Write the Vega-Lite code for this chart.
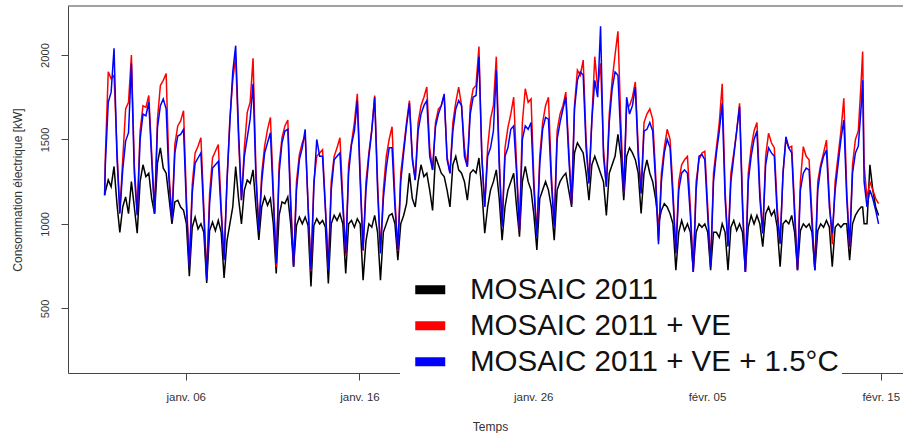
{
"$schema": "https://vega.github.io/schema/vega-lite/v6.json",
"autosize": {"type": "none"},
"padding": {"left": 68, "top": 6, "right": 0, "bottom": 60},
"width": 835,
"height": 367,
"background": "white",
"config": {"view": {"stroke": null}, "font": "Liberation Sans"},
"data": {"values": [
{"t":"2011-01-01T08:00","k":1170,"r":1170,"b":1170},
{"t":"2011-01-01T09:00","k":1190,"r":1400,"b":1350},
{"t":"2011-01-01T13:00","k":1260,"r":1900,"b":1720},
{"t":"2011-01-01T17:00","k":1220,"r":1860,"b":1780},
{"t":"2011-01-01T21:00","k":1340,"r":1880,"b":2040},
{"t":"2011-01-02T01:00","k":1120,"r":1450,"b":1400},
{"t":"2011-01-02T05:00","k":950,"r":1070,"b":1060},
{"t":"2011-01-02T09:00","k":1100,"r":1380,"b":1320},
{"t":"2011-01-02T13:00","k":1160,"r":1680,"b":1490},
{"t":"2011-01-02T17:00","k":1060,"r":1720,"b":1540},
{"t":"2011-01-02T21:00","k":1250,"r":2000,"b":1950},
{"t":"2011-01-03T01:00","k":1100,"r":1350,"b":1300},
{"t":"2011-01-03T05:00","k":945,"r":1060,"b":1050},
{"t":"2011-01-03T09:00","k":1250,"r":1550,"b":1500},
{"t":"2011-01-03T13:00","k":1350,"r":1700,"b":1650},
{"t":"2011-01-03T17:00","k":1280,"r":1690,"b":1640},
{"t":"2011-01-03T21:00","k":1300,"r":1760,"b":1720},
{"t":"2011-01-04T01:00","k":1150,"r":1420,"b":1380},
{"t":"2011-01-04T05:00","k":1060,"r":1070,"b":1060},
{"t":"2011-01-04T09:00","k":1360,"r":1620,"b":1570},
{"t":"2011-01-04T13:00","k":1450,"r":1820,"b":1700},
{"t":"2011-01-04T17:00","k":1330,"r":1850,"b":1740},
{"t":"2011-01-04T21:00","k":1300,"r":1890,"b":1680},
{"t":"2011-01-05T01:00","k":1150,"r":1300,"b":1250},
{"t":"2011-01-05T05:00","k":1000,"r":1030,"b":1020},
{"t":"2011-01-05T09:00","k":1130,"r":1470,"b":1420},
{"t":"2011-01-05T13:00","k":1140,"r":1580,"b":1520},
{"t":"2011-01-05T17:00","k":1100,"r":1610,"b":1530},
{"t":"2011-01-05T21:00","k":1080,"r":1670,"b":1560},
{"t":"2011-01-06T01:00","k":1000,"r":1150,"b":1100},
{"t":"2011-01-06T05:00","k":690,"r":760,"b":740},
{"t":"2011-01-06T09:00","k":980,"r":1230,"b":1180},
{"t":"2011-01-06T13:00","k":1040,"r":1420,"b":1360},
{"t":"2011-01-06T17:00","k":970,"r":1460,"b":1390},
{"t":"2011-01-06T21:00","k":1000,"r":1510,"b":1420},
{"t":"2011-01-07T01:00","k":950,"r":1100,"b":1050},
{"t":"2011-01-07T05:00","k":650,"r":690,"b":670},
{"t":"2011-01-07T09:00","k":960,"r":1180,"b":1120},
{"t":"2011-01-07T13:00","k":1010,"r":1390,"b":1330},
{"t":"2011-01-07T17:00","k":960,"r":1430,"b":1350},
{"t":"2011-01-07T21:00","k":1020,"r":1470,"b":1370},
{"t":"2011-01-08T01:00","k":950,"r":1100,"b":1060},
{"t":"2011-01-08T05:00","k":680,"r":790,"b":785},
{"t":"2011-01-08T09:00","k":900,"r":1250,"b":1250},
{"t":"2011-01-08T13:00","k":1000,"r":1620,"b":1600},
{"t":"2011-01-08T17:00","k":1100,"r":1850,"b":1900},
{"t":"2011-01-08T21:00","k":1340,"r":1990,"b":2055},
{"t":"2011-01-09T01:00","k":1150,"r":1500,"b":1550},
{"t":"2011-01-09T05:00","k":1000,"r":1140,"b":1140},
{"t":"2011-01-09T09:00","k":1200,"r":1450,"b":1400},
{"t":"2011-01-09T13:00","k":1260,"r":1660,"b":1510},
{"t":"2011-01-09T17:00","k":1240,"r":1720,"b":1620},
{"t":"2011-01-09T21:00","k":1320,"r":1980,"b":1830},
{"t":"2011-01-10T01:00","k":1100,"r":1320,"b":1270},
{"t":"2011-01-10T05:00","k":905,"r":965,"b":960},
{"t":"2011-01-10T09:00","k":1100,"r":1300,"b":1250},
{"t":"2011-01-10T13:00","k":1160,"r":1460,"b":1420},
{"t":"2011-01-10T17:00","k":1110,"r":1560,"b":1480},
{"t":"2011-01-10T21:00","k":1150,"r":1630,"b":1540},
{"t":"2011-01-11T01:00","k":1000,"r":1200,"b":1150},
{"t":"2011-01-11T05:00","k":706,"r":745,"b":766},
{"t":"2011-01-11T09:00","k":1050,"r":1350,"b":1300},
{"t":"2011-01-11T13:00","k":1130,"r":1510,"b":1480},
{"t":"2011-01-11T17:00","k":1120,"r":1580,"b":1550},
{"t":"2011-01-11T21:00","k":1160,"r":1615,"b":1560},
{"t":"2011-01-12T01:00","k":1000,"r":1150,"b":1100},
{"t":"2011-01-12T05:00","k":746,"r":750,"b":746},
{"t":"2011-01-12T09:00","k":990,"r":1250,"b":1200},
{"t":"2011-01-12T13:00","k":1040,"r":1410,"b":1380},
{"t":"2011-01-12T17:00","k":1000,"r":1480,"b":1450},
{"t":"2011-01-12T21:00","k":1040,"r":1520,"b":1560},
{"t":"2011-01-13T01:00","k":990,"r":1120,"b":1100},
{"t":"2011-01-13T05:00","k":630,"r":720,"b":726},
{"t":"2011-01-13T09:00","k":990,"r":1250,"b":1220},
{"t":"2011-01-13T13:00","k":1030,"r":1400,"b":1500},
{"t":"2011-01-13T17:00","k":1000,"r":1420,"b":1400},
{"t":"2011-01-13T21:00","k":1020,"r":1440,"b":1400},
{"t":"2011-01-14T01:00","k":980,"r":1100,"b":1080},
{"t":"2011-01-14T05:00","k":647,"r":730,"b":726},
{"t":"2011-01-14T09:00","k":1000,"r":1250,"b":1200},
{"t":"2011-01-14T13:00","k":1050,"r":1400,"b":1380},
{"t":"2011-01-14T17:00","k":1020,"r":1450,"b":1400},
{"t":"2011-01-14T21:00","k":1060,"r":1510,"b":1420},
{"t":"2011-01-15T01:00","k":1000,"r":1150,"b":1100},
{"t":"2011-01-15T05:00","k":706,"r":810,"b":825},
{"t":"2011-01-15T09:00","k":1000,"r":1350,"b":1300},
{"t":"2011-01-15T13:00","k":1020,"r":1480,"b":1470},
{"t":"2011-01-15T17:00","k":980,"r":1600,"b":1550},
{"t":"2011-01-15T21:00","k":1030,"r":1770,"b":1730},
{"t":"2011-01-16T01:00","k":1000,"r":1300,"b":1250},
{"t":"2011-01-16T05:00","k":667,"r":840,"b":845},
{"t":"2011-01-16T09:00","k":900,"r":1250,"b":1200},
{"t":"2011-01-16T13:00","k":1000,"r":1420,"b":1400},
{"t":"2011-01-16T17:00","k":980,"r":1560,"b":1550},
{"t":"2011-01-16T21:00","k":1050,"r":1760,"b":1750},
{"t":"2011-01-17T01:00","k":950,"r":1250,"b":1200},
{"t":"2011-01-17T05:00","k":667,"r":830,"b":825},
{"t":"2011-01-17T09:00","k":950,"r":1200,"b":1150},
{"t":"2011-01-17T13:00","k":1000,"r":1400,"b":1330},
{"t":"2011-01-17T17:00","k":1050,"r":1500,"b":1450},
{"t":"2011-01-17T21:00","k":1060,"r":1575,"b":1450},
{"t":"2011-01-18T01:00","k":1000,"r":1150,"b":1100},
{"t":"2011-01-18T05:00","k":785,"r":840,"b":845},
{"t":"2011-01-18T09:00","k":1000,"r":1300,"b":1250},
{"t":"2011-01-18T13:00","k":1050,"r":1450,"b":1420},
{"t":"2011-01-18T17:00","k":1120,"r":1600,"b":1580},
{"t":"2011-01-18T21:00","k":1300,"r":1730,"b":1714},
{"t":"2011-01-19T01:00","k":1150,"r":1400,"b":1380},
{"t":"2011-01-19T05:00","k":1100,"r":1260,"b":1259},
{"t":"2011-01-19T09:00","k":1250,"r":1600,"b":1550},
{"t":"2011-01-19T13:00","k":1350,"r":1700,"b":1650},
{"t":"2011-01-19T17:00","k":1280,"r":1750,"b":1700},
{"t":"2011-01-19T21:00","k":1300,"r":1810,"b":1730},
{"t":"2011-01-20T01:00","k":1200,"r":1450,"b":1400},
{"t":"2011-01-20T05:00","k":1080,"r":1320,"b":1319},
{"t":"2011-01-20T09:00","k":1400,"r":1600,"b":1575},
{"t":"2011-01-20T13:00","k":1350,"r":1680,"b":1650},
{"t":"2011-01-20T17:00","k":1300,"r":1700,"b":1700},
{"t":"2011-01-20T21:00","k":1280,"r":1760,"b":1770},
{"t":"2011-01-21T01:00","k":1200,"r":1400,"b":1380},
{"t":"2011-01-21T05:00","k":1100,"r":1300,"b":1299},
{"t":"2011-01-21T09:00","k":1350,"r":1600,"b":1550},
{"t":"2011-01-21T13:00","k":1400,"r":1720,"b":1680},
{"t":"2011-01-21T17:00","k":1320,"r":1810,"b":1730},
{"t":"2011-01-21T21:00","k":1300,"r":1700,"b":1700},
{"t":"2011-01-22T01:00","k":1250,"r":1450,"b":1400},
{"t":"2011-01-22T05:00","k":1140,"r":1340,"b":1338},
{"t":"2011-01-22T09:00","k":1300,"r":1700,"b":1650},
{"t":"2011-01-22T13:00","k":1320,"r":1800,"b":1750},
{"t":"2011-01-22T17:00","k":1300,"r":1820,"b":1760},
{"t":"2011-01-22T21:00","k":1390,"r":2050,"b":1990},
{"t":"2011-01-23T01:00","k":1200,"r":1400,"b":1400},
{"t":"2011-01-23T05:00","k":945,"r":1100,"b":1101},
{"t":"2011-01-23T09:00","k":1100,"r":1450,"b":1400},
{"t":"2011-01-23T13:00","k":1200,"r":1620,"b":1450},
{"t":"2011-01-23T17:00","k":1250,"r":1700,"b":1550},
{"t":"2011-01-23T21:00","k":1320,"r":1990,"b":1910},
{"t":"2011-01-24T01:00","k":1150,"r":1400,"b":1350},
{"t":"2011-01-24T05:00","k":904,"r":983,"b":983},
{"t":"2011-01-24T09:00","k":1100,"r":1450,"b":1400},
{"t":"2011-01-24T13:00","k":1200,"r":1570,"b":1450},
{"t":"2011-01-24T17:00","k":1250,"r":1650,"b":1560},
{"t":"2011-01-24T21:00","k":1300,"r":1750,"b":1580},
{"t":"2011-01-25T01:00","k":1100,"r":1350,"b":1300},
{"t":"2011-01-25T05:00","k":924,"r":960,"b":963},
{"t":"2011-01-25T09:00","k":1250,"r":1600,"b":1500},
{"t":"2011-01-25T13:00","k":1340,"r":1800,"b":1580},
{"t":"2011-01-25T17:00","k":1250,"r":1720,"b":1560},
{"t":"2011-01-25T21:00","k":1200,"r":1740,"b":1600},
{"t":"2011-01-26T01:00","k":1050,"r":1250,"b":1200},
{"t":"2011-01-26T05:00","k":845,"r":930,"b":924},
{"t":"2011-01-26T09:00","k":1150,"r":1400,"b":1350},
{"t":"2011-01-26T13:00","k":1200,"r":1600,"b":1560},
{"t":"2011-01-26T17:00","k":1250,"r":1700,"b":1630},
{"t":"2011-01-26T21:00","k":1200,"r":1750,"b":1620},
{"t":"2011-01-27T01:00","k":1100,"r":1300,"b":1250},
{"t":"2011-01-27T05:00","k":904,"r":985,"b":983},
{"t":"2011-01-27T09:00","k":1200,"r":1550,"b":1500},
{"t":"2011-01-27T13:00","k":1250,"r":1650,"b":1600},
{"t":"2011-01-27T17:00","k":1280,"r":1700,"b":1680},
{"t":"2011-01-27T21:00","k":1300,"r":1780,"b":1750},
{"t":"2011-01-28T01:00","k":1200,"r":1450,"b":1400},
{"t":"2011-01-28T05:00","k":1100,"r":1120,"b":1121},
{"t":"2011-01-28T09:00","k":1420,"r":1700,"b":1680},
{"t":"2011-01-28T13:00","k":1480,"r":1910,"b":1850},
{"t":"2011-01-28T17:00","k":1450,"r":1880,"b":1900},
{"t":"2011-01-28T21:00","k":1420,"r":1970,"b":1880},
{"t":"2011-01-29T01:00","k":1300,"r":1500,"b":1450},
{"t":"2011-01-29T05:00","k":1140,"r":1240,"b":1240},
{"t":"2011-01-29T09:00","k":1350,"r":1620,"b":1615},
{"t":"2011-01-29T13:00","k":1400,"r":1990,"b":1850},
{"t":"2011-01-29T17:00","k":1350,"r":1800,"b":1750},
{"t":"2011-01-29T21:00","k":1300,"r":1950,"b":2170},
{"t":"2011-01-30T01:00","k":1250,"r":1450,"b":1400},
{"t":"2011-01-30T05:00","k":1050,"r":1220,"b":1220},
{"t":"2011-01-30T09:00","k":1300,"r":1650,"b":1600},
{"t":"2011-01-30T13:00","k":1350,"r":1850,"b":1800},
{"t":"2011-01-30T17:00","k":1400,"r":2000,"b":1900},
{"t":"2011-01-30T21:00","k":1530,"r":2140,"b":1880},
{"t":"2011-01-31T01:00","k":1400,"r":1600,"b":1500},
{"t":"2011-01-31T05:00","k":1140,"r":1180,"b":1180},
{"t":"2011-01-31T09:00","k":1400,"r":1700,"b":1750},
{"t":"2011-01-31T13:00","k":1450,"r":1700,"b":1650},
{"t":"2011-01-31T17:00","k":1420,"r":1750,"b":1700},
{"t":"2011-01-31T21:00","k":1380,"r":1840,"b":1810},
{"t":"2011-02-01T01:00","k":1300,"r":1450,"b":1400},
{"t":"2011-02-01T05:00","k":1062,"r":1180,"b":1180},
{"t":"2011-02-01T09:00","k":1300,"r":1600,"b":1550},
{"t":"2011-02-01T13:00","k":1378,"r":1650,"b":1560},
{"t":"2011-02-01T17:00","k":1300,"r":1680,"b":1600},
{"t":"2011-02-01T21:00","k":1250,"r":1620,"b":1550},
{"t":"2011-02-02T01:00","k":1150,"r":1300,"b":1250},
{"t":"2011-02-02T05:00","k":1000,"r":900,"b":880},
{"t":"2011-02-02T09:00","k":1080,"r":1300,"b":1250},
{"t":"2011-02-02T13:00","k":1120,"r":1450,"b":1420},
{"t":"2011-02-02T17:00","k":1100,"r":1560,"b":1500},
{"t":"2011-02-02T21:00","k":1060,"r":1500,"b":1450},
{"t":"2011-02-03T01:00","k":1000,"r":1200,"b":1150},
{"t":"2011-02-03T05:00","k":726,"r":830,"b":825},
{"t":"2011-02-03T09:00","k":950,"r":1250,"b":1200},
{"t":"2011-02-03T13:00","k":1020,"r":1350,"b":1300},
{"t":"2011-02-03T17:00","k":960,"r":1380,"b":1320},
{"t":"2011-02-03T21:00","k":1000,"r":1400,"b":1300},
{"t":"2011-02-04T01:00","k":950,"r":1100,"b":1050},
{"t":"2011-02-04T05:00","k":726,"r":710,"b":707},
{"t":"2011-02-04T09:00","k":950,"r":1250,"b":1200},
{"t":"2011-02-04T13:00","k":1000,"r":1380,"b":1400},
{"t":"2011-02-04T17:00","k":980,"r":1420,"b":1410},
{"t":"2011-02-04T21:00","k":1000,"r":1430,"b":1380},
{"t":"2011-02-05T01:00","k":950,"r":1100,"b":1050},
{"t":"2011-02-05T05:00","k":726,"r":750,"b":746},
{"t":"2011-02-05T09:00","k":950,"r":1300,"b":1250},
{"t":"2011-02-05T13:00","k":950,"r":1450,"b":1420},
{"t":"2011-02-05T17:00","k":920,"r":1600,"b":1550},
{"t":"2011-02-05T21:00","k":1000,"r":1830,"b":1714},
{"t":"2011-02-06T01:00","k":950,"r":1200,"b":1150},
{"t":"2011-02-06T05:00","k":726,"r":870,"b":865},
{"t":"2011-02-06T09:00","k":980,"r":1300,"b":1250},
{"t":"2011-02-06T13:00","k":1020,"r":1420,"b":1400},
{"t":"2011-02-06T17:00","k":960,"r":1550,"b":1550},
{"t":"2011-02-06T21:00","k":1000,"r":1714,"b":1694},
{"t":"2011-02-07T01:00","k":950,"r":1150,"b":1100},
{"t":"2011-02-07T05:00","k":726,"r":700,"b":690},
{"t":"2011-02-07T09:00","k":980,"r":1300,"b":1250},
{"t":"2011-02-07T13:00","k":1050,"r":1450,"b":1400},
{"t":"2011-02-07T17:00","k":1000,"r":1550,"b":1500},
{"t":"2011-02-07T21:00","k":1050,"r":1600,"b":1550},
{"t":"2011-02-08T01:00","k":1000,"r":1200,"b":1150},
{"t":"2011-02-08T05:00","k":865,"r":945,"b":943},
{"t":"2011-02-08T09:00","k":1060,"r":1400,"b":1350},
{"t":"2011-02-08T13:00","k":1100,"r":1536,"b":1450},
{"t":"2011-02-08T17:00","k":1050,"r":1480,"b":1420},
{"t":"2011-02-08T21:00","k":1080,"r":1450,"b":1400},
{"t":"2011-02-09T01:00","k":980,"r":1100,"b":1050},
{"t":"2011-02-09T05:00","k":746,"r":880,"b":884},
{"t":"2011-02-09T09:00","k":1000,"r":1300,"b":1300},
{"t":"2011-02-09T13:00","k":1020,"r":1500,"b":1516},
{"t":"2011-02-09T17:00","k":1000,"r":1450,"b":1450},
{"t":"2011-02-09T21:00","k":1050,"r":1460,"b":1420},
{"t":"2011-02-10T01:00","k":950,"r":1100,"b":1050},
{"t":"2011-02-10T05:00","k":726,"r":730,"b":726},
{"t":"2011-02-10T09:00","k":960,"r":1250,"b":1200},
{"t":"2011-02-10T13:00","k":1000,"r":1457,"b":1300},
{"t":"2011-02-10T17:00","k":980,"r":1400,"b":1330},
{"t":"2011-02-10T21:00","k":1000,"r":1380,"b":1320},
{"t":"2011-02-11T01:00","k":950,"r":1050,"b":1000},
{"t":"2011-02-11T05:00","k":726,"r":730,"b":726},
{"t":"2011-02-11T09:00","k":960,"r":1250,"b":1200},
{"t":"2011-02-11T13:00","k":1000,"r":1350,"b":1330},
{"t":"2011-02-11T17:00","k":980,"r":1420,"b":1400},
{"t":"2011-02-11T21:00","k":1020,"r":1496,"b":1437},
{"t":"2011-02-12T01:00","k":980,"r":1150,"b":1100},
{"t":"2011-02-12T05:00","k":746,"r":880,"b":943},
{"t":"2011-02-12T09:00","k":980,"r":1250,"b":1200},
{"t":"2011-02-12T13:00","k":1000,"r":1400,"b":1350},
{"t":"2011-02-12T17:00","k":980,"r":1550,"b":1500},
{"t":"2011-02-12T21:00","k":1000,"r":1743,"b":1615},
{"t":"2011-02-13T01:00","k":1000,"r":1200,"b":1150},
{"t":"2011-02-13T05:00","k":785,"r":860,"b":865},
{"t":"2011-02-13T09:00","k":1000,"r":1350,"b":1300},
{"t":"2011-02-13T13:00","k":1050,"r":1500,"b":1420},
{"t":"2011-02-13T17:00","k":1080,"r":1550,"b":1460},
{"t":"2011-02-13T21:00","k":1100,"r":1850,"b":1700},
{"t":"2011-02-13T23:00","k":1100,"r":2020,"b":1850},
{"t":"2011-02-14T01:00","k":1000,"r":1350,"b":1250},
{"t":"2011-02-14T05:00","k":1000,"r":1150,"b":1100},
{"t":"2011-02-14T09:00","k":1350,"r":1250,"b":1200},
{"t":"2011-02-14T13:00","k":1200,"r":1200,"b":1150},
{"t":"2011-02-14T17:00","k":1100,"r":1150,"b":1080},
{"t":"2011-02-14T21:00","k":1050,"r":1120,"b":1000}
]},
"layer": [
{
"transform": [{"fold": ["k", "r", "b"], "as": ["s", "v"]}],
"mark": {"type": "line", "strokeWidth": 1.5, "clip": true},
"encoding": {
"x": {"field": "t", "type": "temporal",
 "scale": {"domain": [{"year": 2010, "month": 12, "date": 30, "hours": 5, "minutes": 25}, {"year": 2011, "month": 2, "date": 16, "hours": 6, "minutes": 43}]},
 "axis": {"values": [{"year": 2011, "month": 1, "date": 6}, {"year": 2011, "month": 1, "date": 16}, {"year": 2011, "month": 1, "date": 26}, {"year": 2011, "month": 2, "date": 5}, {"year": 2011, "month": 2, "date": 15}],
  "labelExpr": "(month(datum.value)==0?'janv. ':'févr. ')+timeFormat(datum.value,'%d')",
  "title": "Temps", "grid": false, "tickSize": 7, "labelPadding": 11, "labelFontSize": 11.5, "labelColor": "#333", "labelFlush": false, "labelOverlap": false,
  "domainColor": "#444", "tickColor": "#444", "titleFontSize": 12, "titleFontWeight": "normal", "titleColor": "#333",
  "titleX": 422, "titleY": 53, "titleAlign": "center", "titleBaseline": "middle"}},
"y": {"field": "v", "type": "quantitative",
 "scale": {"domain": [117, 2290], "nice": false, "zero": false},
 "axis": {"values": [500, 1000, 1500, 2000], "format": "d", "labelAngle": -90, "labelAlign": "center", "labelBaseline": "bottom", "tickSize": 7, "labelPadding": 11, "labelFontSize": 11.2, "labelColor": "#333", "grid": false,
  "domainColor": "#444", "tickColor": "#444", "title": "Consommation électrique [kW]", "titleFontSize": 12, "titleFontWeight": "normal", "titleColor": "#333",
  "titleAngle": -90, "titleX": -51, "titleY": 183.5, "titleAlign": "center", "titleBaseline": "middle"}},
"color": {"field": "s", "type": "nominal",
 "scale": {"domain": ["k", "r", "b"], "range": ["#000000", "#ff0000", "#0000ff"]},
 "legend": {"title": null, "orient": "none", "legendX": 332, "legendY": 266, "fillColor": "white", "padding": 3,
  "symbolType": "M-1.5,0L1.5,0", "symbolStrokeWidth": 9, "symbolSize": 400, "symbolOffset": 12.5,
  "labelFontSize": 29.5, "labelColor": "#111", "labelOffset": 25, "rowPadding": -1, "labelLimit": 0,
  "labelExpr": "datum.value=='k'?'MOSAIC 2011':datum.value=='r'?'MOSAIC 2011 + VE':'MOSAIC 2011 + VE + 1.5°C'"}}
}
},
{
"data": {"values": [{}]},
"mark": {"type": "rule", "color": "#444", "strokeWidth": 1},
"encoding": {"y": {"datum": 2290}}
}
]
}
